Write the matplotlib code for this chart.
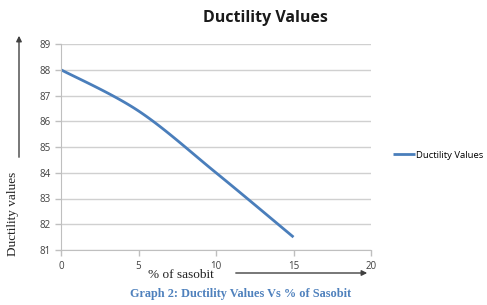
import numpy as np
import matplotlib
matplotlib.use("Agg")
import matplotlib.pyplot as plt

x_vals = [0, 5, 10, 15]
y_vals = [88, 86.4, 84, 81.5]
series_name = "Ductility Values"
x_ticks = [0, 5, 10, 15, 20]
y_ticks = [81, 82, 83, 84, 85, 86, 87, 88, 89]

def smooth(xs, ys, n=40):
    xs = np.asarray(xs, float); ys = np.asarray(ys, float)
    px = np.concatenate([[xs[0]], xs, [xs[-1]]])
    py = np.concatenate([[ys[0]], ys, [ys[-1]]])
    ox, oy = [], []
    t = np.linspace(0, 1, n)
    for i in range(1, len(px) - 2):
        p0 = np.array([px[i], py[i]]); p3 = np.array([px[i+1], py[i+1]])
        p1 = p0 + (np.array([px[i+1], py[i+1]]) - np.array([px[i-1], py[i-1]])) / 6
        p2 = p3 - (np.array([px[i+2], py[i+2]]) - np.array([px[i], py[i]])) / 6
        b = ((1-t)**3)[:, None]*p0 + (3*(1-t)**2*t)[:, None]*p1 + (3*(1-t)*t**2)[:, None]*p2 + (t**3)[:, None]*p3
        ox.extend(b[:, 0]); oy.extend(b[:, 1])
    return np.array(ox), np.array(oy)

fig = plt.figure(figsize=(4.87, 3.05), dpi=100)
ax = fig.add_axes([61/487, 55/305, 310/487, 206/305])
sx, sy = smooth(x_vals, y_vals)
line, = ax.plot(sx, sy, color="#4A7EBB", lw=2, label=series_name, solid_capstyle="butt")
ax.set_xlim(0, 20)
ax.set_ylim(81, 89)
ax.set_xticks(x_ticks)
ax.set_yticks(y_ticks)
ax.grid(axis="y", color="#D0D0D0", lw=1)
ax.set_axisbelow(True)
for s in ["top", "right"]:
    ax.spines[s].set_visible(False)
for s in ["left", "bottom"]:
    ax.spines[s].set_color("#BFBFBF")
ax.tick_params(axis="both", colors="#BFBFBF", labelcolor="#404040", labelsize=7, length=4, width=1)
ax.tick_params(axis="x", pad=4)
for lab in ax.get_xticklabels() + ax.get_yticklabels():
    lab.set_fontfamily("Open Sans")

fig.text(265/487, 1 - 18/305, "Ductility Values", ha="center", va="center",
         fontsize=11.5, fontweight="bold", family="Open Sans", color="#1a1a1a")

# legend
fig.legend(handles=[line], loc="center left", bbox_to_anchor=(389/487, 1 - 155/305),
           frameon=False, prop={"family": "Open Sans", "size": 6.8}, handlelength=2.3,
           handletextpad=0.2, borderaxespad=0)

# axis labels (serif)
fig.text(13/487, 1 - 214/305, "Ductility values", rotation=90, ha="center", va="center",
         fontsize=9.5, family="Liberation Serif", color="#222222")
fig.text(181/487, 1 - 275/305, "% of sasobit", ha="center", va="center",
         fontsize=9.5, family="Liberation Serif", color="#222222",
         bbox=dict(facecolor="white", edgecolor="none", pad=1))

# arrows
fig.add_artist(matplotlib.patches.FancyArrowPatch((233/487, 1 - 273/305), (370/487, 1 - 273/305),
               transform=fig.transFigure, arrowstyle="-|>", mutation_scale=8, color="#404040", lw=1))
fig.add_artist(matplotlib.patches.FancyArrowPatch((19/487, 1 - 160/305), (19/487, 1 - 33/305),
               transform=fig.transFigure, arrowstyle="-|>", mutation_scale=8, color="#404040", lw=1))

fig.text(241/487, 1 - 294/305, "Graph 2: Ductility Values Vs % of Sasobit", ha="center", va="center",
         fontsize=8.8, fontweight="bold", family="Liberation Serif", color="#4F81BD")

fig.savefig("out.png", dpi=100)
